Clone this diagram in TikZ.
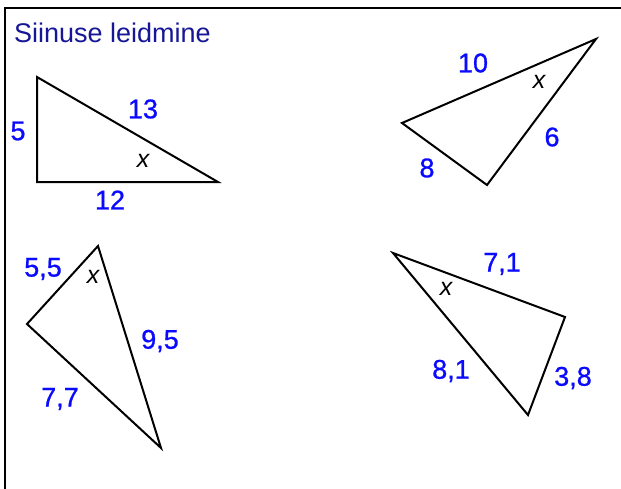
\documentclass[tikz,border=0pt]{standalone}
\usepackage{fontspec}
\setmainfont{Liberation Sans}
\newfontfamily\numfont[FakeBold=0.8]{Liberation Sans}
\definecolor{titlecol}{RGB}{22,22,150}
\definecolor{numcol}{RGB}{10,10,255}
\begin{document}
\begin{tikzpicture}[x=1pt,y=-1pt,
  frame/.style={line width=2.8pt,black},
  tri/.style={line width=2pt,black,line join=miter},
  num/.style={text=numcol,font=\numfont\fontsize{27}{27}\selectfont,inner sep=0pt},
  ang/.style={text=black,font=\fontsize{25}{25}\selectfont\itshape,inner sep=0pt}]
\useasboundingbox (0,0) rectangle (621,488);
\fill[white] (0,0) rectangle (621,488);
% frame (left and top only)
\coordinate (fb) at (5,490);
\coordinate (fc) at (5,8);
\coordinate (fr) at (623,8);
\draw[frame] (fb) -- (fc) -- (fr);
\node[anchor=base west,inner sep=0pt,text=titlecol,font=\fontsize{27}{27}\selectfont] (title) at (14,42) {Siinuse leidmine};
% triangle 1
\coordinate (a1) at (37,77);
\coordinate (b1) at (37,182);
\coordinate (c1) at (218,182);
\draw[tri] (a1) -- (b1) -- (c1) -- cycle;
\node[num] (l5) at (18,131) {5};
\node[num] (l13) at (143,109) {13};
\node[ang] (x1) at (143,161) {x};
\node[num] (l12) at (110,200) {12};
% triangle 2
\coordinate (a2) at (596,39);
\coordinate (b2) at (402,123);
\coordinate (c2) at (487,185);
\draw[tri] (a2) -- (b2) -- (c2) -- cycle;
\node[num] (l10) at (473,63) {10};
\node[ang] (x2) at (539,82) {x};
\node[num] (l6) at (552,137) {6};
\node[num] (l8) at (427,168) {8};
% triangle 3
\coordinate (a3) at (98,246);
\coordinate (b3) at (27,324);
\coordinate (c3) at (161,448);
\draw[tri] (a3) -- (b3) -- (c3) -- cycle;
\node[num] (l55) at (43,269) {5,5};
\node[ang] (x3) at (93,277) {x};
\node[num] (l95) at (160,341) {9,5};
\node[num] (l77) at (60,399) {7,7};
% triangle 4
\coordinate (a4) at (393,253);
\coordinate (b4) at (565,317);
\coordinate (c4) at (528,415);
\draw[tri] (a4) -- (b4) -- (c4) -- cycle;
\node[num] (l71) at (502,264) {7,1};
\node[ang] (x4) at (446,289) {x};
\node[num] (l81) at (451,371) {8,1};
\node[num] (l38) at (573,378) {3,8};
\end{tikzpicture}
\end{document}
